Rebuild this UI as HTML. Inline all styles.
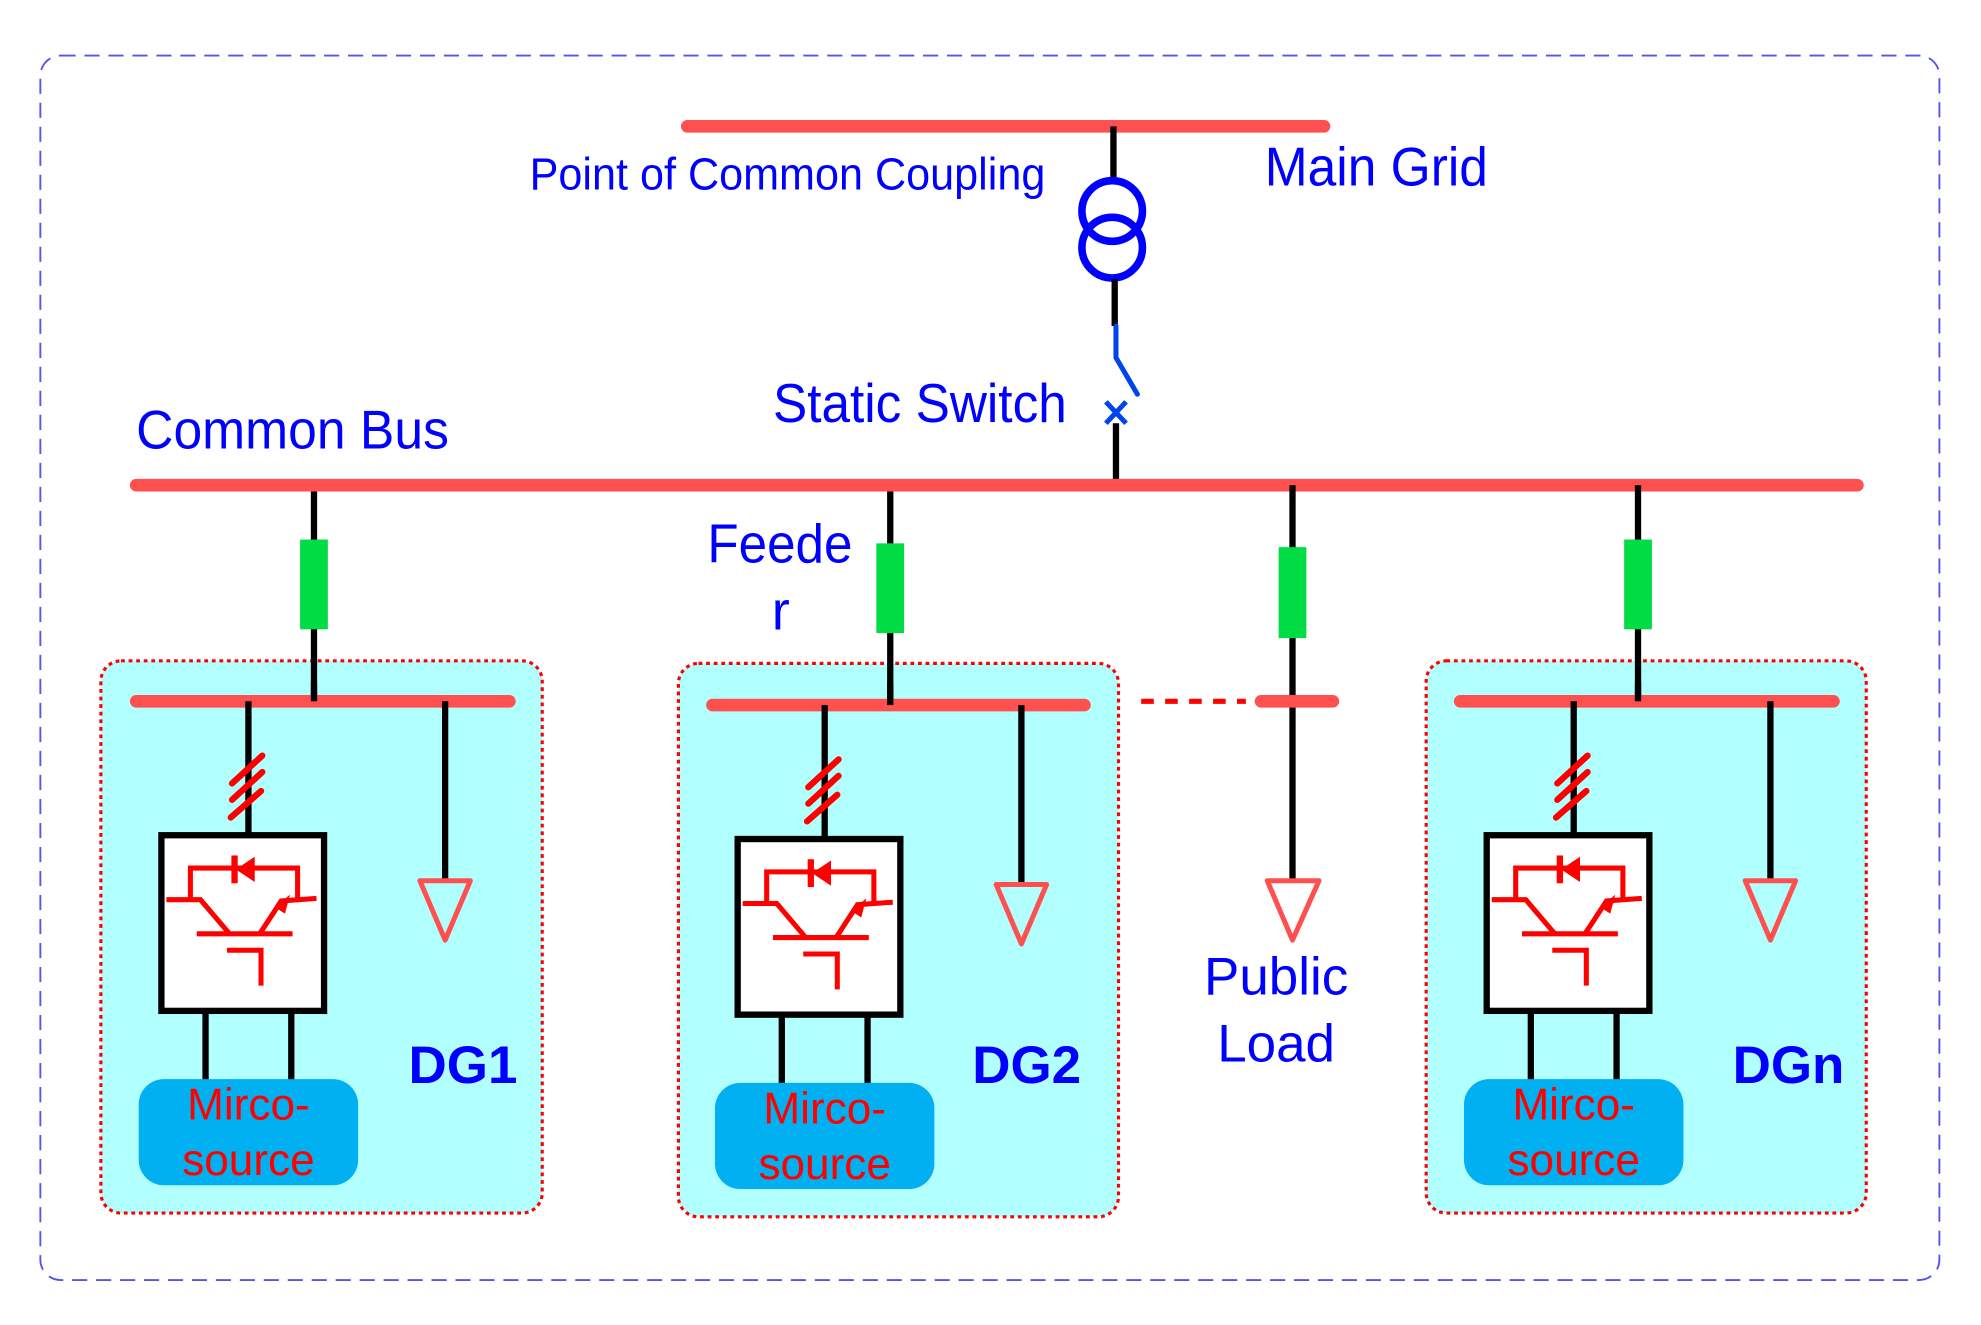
<!DOCTYPE html>
<html><head><meta charset="utf-8"><style>html,body{margin:0;padding:0;background:#fff}svg{display:block}</style></head>
<body>
<svg width="1981" height="1325" viewBox="0 0 1571 1048.6" preserveAspectRatio="none" xmlns="http://www.w3.org/2000/svg" font-family="Liberation Sans, sans-serif">
<defs>
<g id="dg">
  <line x1="197" y1="555" x2="197" y2="660" stroke="#000" stroke-width="5"/>
  <g stroke="#ff0000" stroke-width="5" stroke-linecap="round">
    <line x1="184" y1="620" x2="208" y2="598"/>
    <line x1="184" y1="633" x2="208" y2="611"/>
    <line x1="183" y1="647" x2="207" y2="626"/>
  </g>
  <rect x="128" y="661" width="129" height="139" fill="#fff" stroke="#000" stroke-width="5"/>
  <g stroke="#ff0000" stroke-width="4" fill="none">
    <polyline points="151,712 151,687 236,687 236,711"/>
    <polyline points="132,712 159,712 182,739"/>
    <polyline points="206,739 223,713 251,711"/>
    <line x1="156" y1="739" x2="232" y2="739"/>
    <polyline points="180,752 207,752 207,780"/>
    <line x1="186" y1="677" x2="186" y2="699" stroke-width="5"/>
  </g>
  <polygon points="187,688 202,678 202,698" fill="#ff0000"/>
  <polygon points="218,718 230,708 226,723" fill="#ff0000"/>
  <line x1="353" y1="555" x2="353" y2="697" stroke="#000" stroke-width="5"/>
  <polygon points="333,697 373,697 353,744" fill="none" stroke="#ff5050" stroke-width="4" stroke-linejoin="round"/>
  <line x1="163" y1="800" x2="163" y2="856" stroke="#000" stroke-width="5"/>
  <line x1="231" y1="800" x2="231" y2="856" stroke="#000" stroke-width="5"/>
  <rect x="110" y="854" width="174" height="84" rx="20" fill="#00b0f0"/>
  <text x="197" y="886" font-size="35" fill="#ff0000" text-anchor="middle">Mirco-</text>
  <text x="197" y="930" font-size="35" fill="#ff0000" text-anchor="middle">source</text>
</g>
</defs>
<rect x="32" y="44" width="1506" height="969" rx="16" fill="none" stroke="#5555ee" stroke-width="1.5" stroke-dasharray="12,7"/>

<rect x="80" y="523" width="350" height="437" rx="16" fill="#b2ffff" stroke="#ff0000" stroke-width="2.5" stroke-dasharray="3,3"/>
<rect x="538" y="525" width="349" height="438" rx="16" fill="#b2ffff" stroke="#ff0000" stroke-width="2.5" stroke-dasharray="3,3"/>
<rect x="1131" y="523" width="349" height="437" rx="16" fill="#b2ffff" stroke="#ff0000" stroke-width="2.5" stroke-dasharray="3,3"/>

<line x1="545" y1="100" x2="1050" y2="100" stroke="#ff5050" stroke-width="10" stroke-linecap="round"/>
<line x1="883" y1="100" x2="883" y2="142" stroke="#000" stroke-width="5"/>
<circle cx="882" cy="167" r="24" fill="none" stroke="#0000ff" stroke-width="6"/>
<circle cx="882" cy="196" r="24" fill="none" stroke="#0000ff" stroke-width="6"/>
<line x1="884" y1="221" x2="884" y2="258" stroke="#000" stroke-width="5"/>
<polyline points="885,258 885,283 902,312" fill="none" stroke="#0044ee" stroke-width="4" stroke-linecap="round"/>
<g stroke="#0044ee" stroke-width="4"><line x1="877" y1="318" x2="893" y2="335"/><line x1="893" y1="318" x2="877" y2="335"/></g>
<line x1="885" y1="335" x2="885" y2="384" stroke="#000" stroke-width="5"/>

<text x="420" y="150" font-size="36" fill="#0000ff" textLength="409" lengthAdjust="spacingAndGlyphs">Point of Common Coupling</text>
<text x="1003" y="147" font-size="43" fill="#0000ff" textLength="177" lengthAdjust="spacingAndGlyphs">Main Grid</text>
<text x="613" y="334" font-size="43" fill="#0000ff" textLength="233" lengthAdjust="spacingAndGlyphs">Static Switch</text>
<text x="108" y="355" font-size="43" fill="#0000ff" textLength="248" lengthAdjust="spacingAndGlyphs">Common Bus</text>
<text x="561" y="445" font-size="43" fill="#0000ff" textLength="115" lengthAdjust="spacingAndGlyphs">Feede</text>
<text x="612" y="498" font-size="43" fill="#0000ff">r</text>

<line x1="108" y1="384" x2="1473" y2="384" stroke="#ff5050" stroke-width="10" stroke-linecap="round"/>
<g stroke="#000" stroke-width="5">
<line x1="249" y1="389" x2="249" y2="555"/>
<line x1="706" y1="389" x2="706" y2="558"/>
<line x1="1025" y1="384" x2="1025" y2="697"/>
<line x1="1299" y1="384" x2="1299" y2="555"/>
</g>
<g fill="#00dd44">
<rect x="238" y="427" width="22" height="71"/>
<rect x="695" y="430" width="22" height="71"/>
<rect x="1014" y="433" width="22" height="72"/>
<rect x="1288" y="427" width="22" height="71"/>
</g>

<g stroke="#ff5050" stroke-width="10" stroke-linecap="round">
<line x1="108" y1="555" x2="404" y2="555"/>
<line x1="565" y1="558" x2="860" y2="558"/>
<line x1="1158" y1="555" x2="1454" y2="555"/>
<line x1="1000" y1="555" x2="1057" y2="555"/>
</g>
<line x1="905" y1="555" x2="988" y2="555" stroke="#ff0000" stroke-width="4" stroke-dasharray="10,9"/>
<line x1="249" y1="540" x2="249" y2="555" stroke="#000" stroke-width="5"/>
<line x1="706" y1="540" x2="706" y2="558" stroke="#000" stroke-width="5"/>
<line x1="1299" y1="540" x2="1299" y2="555" stroke="#000" stroke-width="5"/>

<use href="#dg"/>
<use href="#dg" transform="translate(457,3)"/>
<use href="#dg" transform="translate(1051,0)"/>

<polygon points="1005,697 1046,697 1025,744" fill="none" stroke="#ff5050" stroke-width="4" stroke-linejoin="round"/>
<text x="1012" y="787" font-size="42" fill="#0000ff" text-anchor="middle">Public</text>
<text x="1012" y="840" font-size="42" fill="#0000ff" text-anchor="middle">Load</text>

<text x="324" y="857" font-size="42" font-weight="bold" fill="#0000ff">DG1</text>
<text x="771" y="857" font-size="42" font-weight="bold" fill="#0000ff">DG2</text>
<text x="1374" y="857" font-size="42" font-weight="bold" fill="#0000ff">DGn</text>
</svg>
</body></html>
